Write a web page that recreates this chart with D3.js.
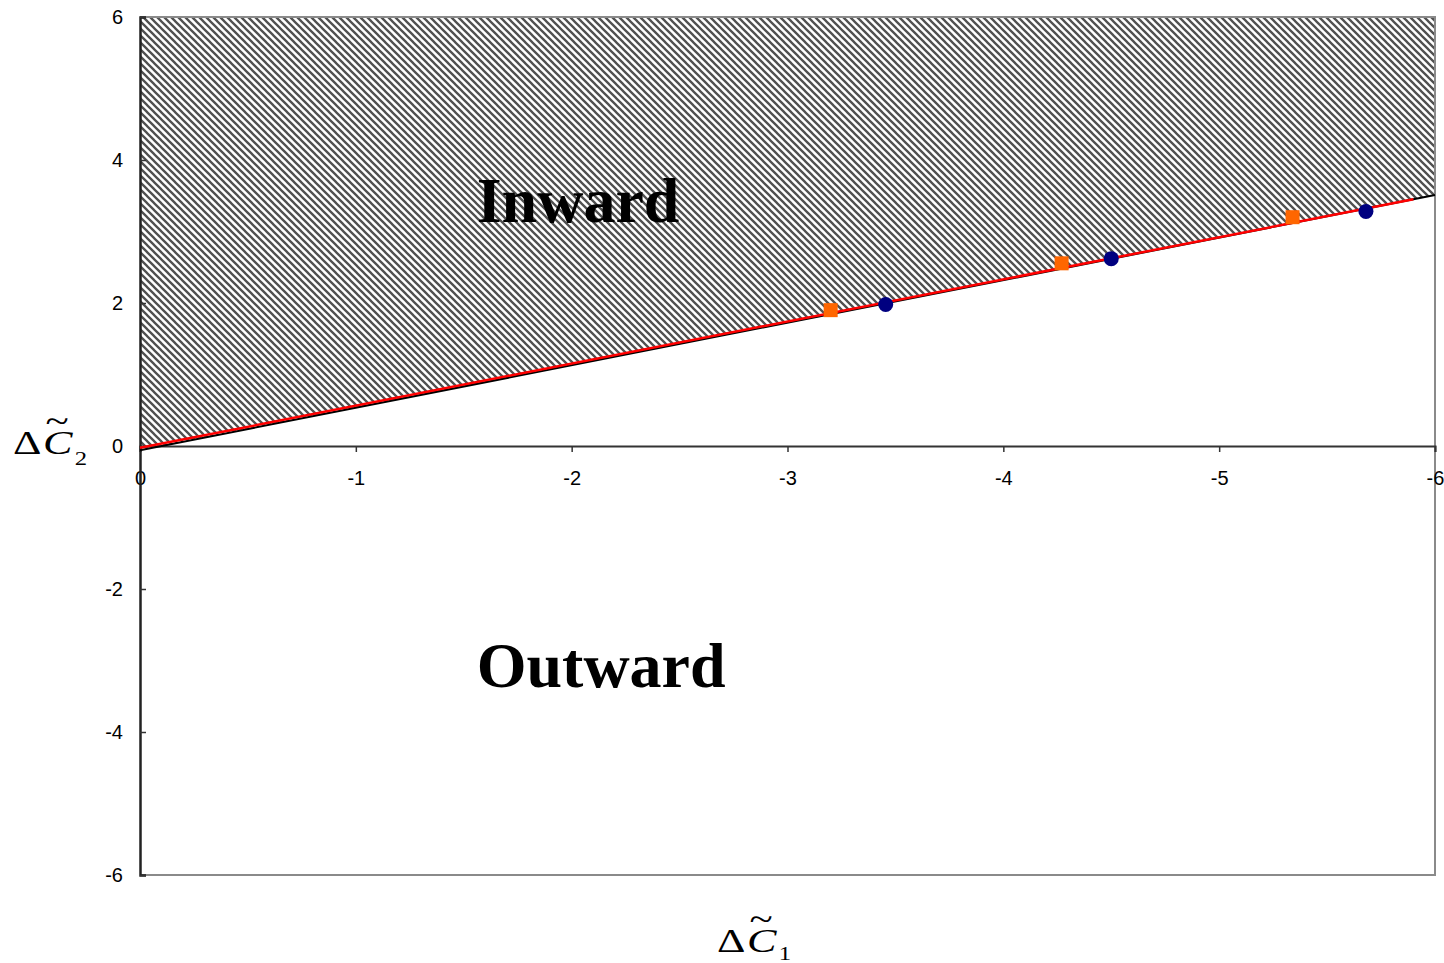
<!DOCTYPE html>
<html>
<head>
<meta charset="utf-8">
<script src="https://cdn.jsdelivr.net/npm/d3@7"></script>
<style>
  html, body { margin: 0; padding: 0; background: #fff; }
  svg { display: block; }
</style>
</head>
<body>
<svg id="chart" width="1444" height="963"></svg>
<script>
// Axis ranges and tick values
const xTicks = [0, -1, -2, -3, -4, -5, -6];
const yTicks = [-6, -4, -2, 0, 2, 4, 6];

// Boundary between the inward and outward regions (endpoints)
const boundaryX = [0, -6];
const boundaryY = [-0.06, 3.51];

// Fitted line (endpoints)
const fitX = [0, -5.9];
const fitY = [-0.025, 3.45];

// Square markers
const squareX = [-3.20, -4.27, -5.34];
const squareY = [1.90, 2.555, 3.20];

// Circle markers
const circleX = [-3.455, -4.50, -5.68];
const circleY = [1.98, 2.62, 3.28];

const regionLabels = [
  { text: "Inward", x: -1.56, y: 3.13 },
  { text: "Outward", x: -1.56, y: -3.37 }
];

const svg = d3.select("#chart");
const plotLeft = 140, plotRight = 1435, plotTop = 17, plotBottom = 875;

const x = d3.scaleLinear().domain([0, -6]).range([plotLeft, plotRight]);
const y = d3.scaleLinear().domain([-6, 6]).range([plotBottom, plotTop]);

// Diagonal hatch pattern
const defs = svg.append("defs");
const pat = defs.append("pattern")
  .attr("id", "hatch")
  .attr("patternUnits", "userSpaceOnUse")
  .attr("width", 7).attr("height", 7);
pat.append("rect").attr("width", 7).attr("height", 7).attr("fill", "#fff");
pat.append("path")
  .attr("d", "M-1,-1 L8,8 M-1,6 L1,8 M6,-1 L8,1")
  .attr("stroke", "#505050")
  .attr("stroke-width", 2.3)
  .attr("fill", "none");

// Hatched inward region above the boundary
const region = [
  [boundaryX[0], boundaryY[0]],
  [boundaryX[1], boundaryY[1]],
  [boundaryX[1], 6],
  [boundaryX[0], 6]
];
svg.append("path")
  .attr("d", d3.line().x(d => x(d[0])).y(d => y(d[1]))(region) + "Z")
  .attr("fill", "url(#hatch)");

// Plot frame (top, right, bottom)
svg.append("path")
  .attr("d", `M${plotLeft},${plotTop}H${plotRight}V${plotBottom}H${plotLeft}`)
  .attr("fill", "none")
  .attr("stroke", "#8a8a8a")
  .attr("stroke-width", 2);

const tickFmt = d => String(d);

// X axis along y = 0, ticks pointing down
const xAxis = d3.axisBottom(x).tickValues(xTicks).tickSize(6).tickPadding(19)
  .tickFormat(tickFmt);
const gx = svg.append("g").attr("transform", `translate(0,${y(0)})`).call(xAxis);
gx.select(".domain").attr("stroke", "#333").attr("stroke-width", 2);
gx.selectAll(".tick line").attr("stroke", "#333").attr("stroke-width", 1.5);

// Y axis on the left, ticks pointing inward
const yAxis = d3.axisLeft(y).tickValues(yTicks).tickSize(-6).tickPadding(16)
  .tickFormat(tickFmt);
const gy = svg.append("g").attr("transform", `translate(${plotLeft},0)`).call(yAxis);
gy.select(".domain").attr("stroke", "#222").attr("stroke-width", 2.5);
gy.selectAll(".tick line").attr("stroke", "#333").attr("stroke-width", 1.5);
gy.selectAll(".tick text").attr("x", -17);

svg.selectAll(".tick text")
  .attr("font-family", "Arial, 'Liberation Sans', sans-serif")
  .attr("font-size", 20)
  .attr("fill", "#000");

const line = d3.line().x(d => x(d[0])).y(d => y(d[1]));

// Boundary line
svg.append("path")
  .attr("d", line(boundaryX.map((v, i) => [v, boundaryY[i]])))
  .attr("stroke", "#000").attr("stroke-width", 2).attr("fill", "none");

// Fitted line
svg.append("path")
  .attr("d", line(fitX.map((v, i) => [v, fitY[i]])))
  .attr("stroke", "#ff0000").attr("stroke-width", 2.5).attr("fill", "none");

// Square markers
const sq = 14;
svg.append("g").selectAll("rect")
  .data(squareX.map((v, i) => [v, squareY[i]]))
  .join("rect")
  .attr("x", d => x(d[0]) - sq / 2)
  .attr("y", d => y(d[1]) - sq / 2)
  .attr("width", sq).attr("height", sq)
  .attr("fill", "#ff6600");

// Circle markers
svg.append("g").selectAll("circle")
  .data(circleX.map((v, i) => [v, circleY[i]]))
  .join("circle")
  .attr("cx", d => x(d[0]))
  .attr("cy", d => y(d[1]))
  .attr("r", 7.5)
  .attr("fill", "#000080");

// Region labels
svg.append("g").selectAll("text")
  .data(regionLabels)
  .join("text")
  .attr("x", d => x(d.x))
  .attr("y", d => y(d.y))
  .attr("font-family", "'Liberation Serif', 'Times New Roman', serif")
  .attr("font-weight", "bold")
  .attr("font-size", 64)
  .attr("fill", "#000")
  .text(d => d.text);

// Axis titles: delta C-tilde with subscript, built as one text element
function axisTitle(px, py, sub, subY) {
  const t = svg.append("text")
    .attr("transform", `translate(${px},${py}) scale(1.3,1)`)
    .attr("font-family", "'Liberation Serif', 'Times New Roman', serif")
    .attr("font-size", 34)
    .attr("fill", "#000");
  t.append("tspan").attr("x", 0).attr("y", 0).text("Δ");
  t.append("tspan").attr("x", 23).attr("y", 0)
    .attr("font-style", "italic").text("C");
  t.append("tspan").attr("x", 25).attr("y", -22)
    .attr("font-size", 33).text("~");
  t.append("tspan").attr("x", 47.5).attr("y", subY)
    .attr("font-size", 19).text(sub);
}
axisTitle(13, 454, "2", 11);
axisTitle(717, 952, "1", 8);
</script>
</body>
</html>
